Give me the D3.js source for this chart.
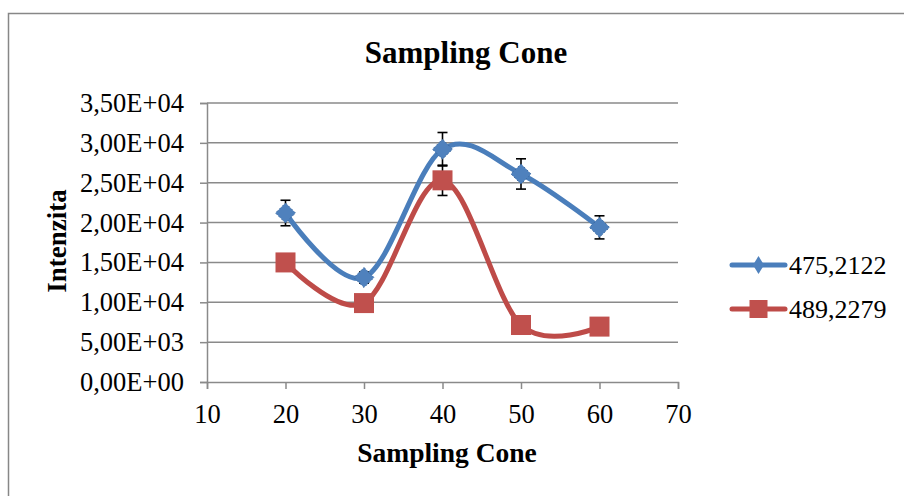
<!DOCTYPE html>
<html>
<head>
<meta charset="utf-8">
<script src="https://cdn.jsdelivr.net/npm/d3@7"></script>
<style>
  html, body { margin: 0; padding: 0; background: #fff; }
  svg { display: block; }
  text { font-family: "Liberation Serif", "Times New Roman", serif; fill: #000; }
</style>
</head>
<body>
<svg id="chart" width="904" height="496"></svg>
<script>
// ---- data ----
const categories = [20, 30, 40, 50, 60];
const seriesNames = ["475,2122", "489,2279"];
const series1 = [21200, 13100, 29200, 26100, 19400];
const series1Err = [1600, 700, 2100, 1900, 1450];
const series2 = [15000, 9900, 25300, 7150, 6950];
const series2Err = [500, 500, 1900, 500, 500];
const xTicks = [10, 20, 30, 40, 50, 60, 70];
const yTicks = [0, 5000, 10000, 15000, 20000, 25000, 30000, 35000];
const yTickLabels = ["0,00E+00", "5,00E+03", "1,00E+04", "1,50E+04", "2,00E+04", "2,50E+04", "3,00E+04", "3,50E+04"];
const chartTitle = "Sampling Cone";
const xTitle = "Sampling Cone";
const yTitle = "Intenzita";

const svg = d3.select("#chart");
const blue = "#4A7EBB", blueFill = "#4F81BD";
const red = "#BE4B48", redFill = "#C0504D";
const gridCol = "#8a8a8a";
const serif = '"Liberation Serif", "Times New Roman", serif';

// frame
svg.append("rect").attr("x", 8.5).attr("y", 13.5).attr("width", 1000).attr("height", 1000)
  .attr("fill", "#fff").attr("stroke", "#878787").attr("stroke-width", 1.5);

const x = d3.scaleLinear().domain([10, 70]).range([207, 678]);
const y = d3.scaleLinear().domain([0, 35000]).range([382, 103]);

// gridlines
svg.append("g").selectAll("line").data(yTicks.slice(1)).join("line")
  .attr("x1", x(10)).attr("x2", x(70))
  .attr("y1", d => y(d)).attr("y2", d => y(d))
  .attr("stroke", gridCol).attr("stroke-width", 1.5);

// axes
const yAxis = d3.axisLeft(y).tickValues(yTicks).tickSize(7).tickPadding(16)
  .tickFormat((d, i) => yTickLabels[i]);
const gy = svg.append("g").attr("transform", `translate(${x(10)},0)`).call(yAxis);
const xAxis = d3.axisBottom(x).tickValues(xTicks).tickSize(7).tickPadding(15)
  .tickFormat(d3.format("d"));
const gx = svg.append("g").attr("transform", `translate(0,${y(0)})`).call(xAxis);
[gx, gy].forEach(g => {
  g.select(".domain").attr("stroke", gridCol).attr("stroke-width", 1.5);
  g.selectAll(".tick line").attr("stroke", gridCol).attr("stroke-width", 1.5);
  g.selectAll(".tick text").style("font-family", serif)
    .style("font-size", "26.5px").attr("fill", "#000");
});

// lines
const line = d3.line().x(d => x(d[0])).y(d => y(d[1])).curve(d3.curveCardinal.tension(0));
const d1 = categories.map((c, i) => [c, series1[i], series1Err[i]]);
const d2 = categories.map((c, i) => [c, series2[i], series2Err[i]]);
svg.append("path").attr("d", line(d1)).attr("fill", "none").attr("stroke", blue)
  .attr("stroke-width", 5).attr("stroke-linecap", "round");
svg.append("path").attr("d", line(d2)).attr("fill", "none").attr("stroke", red)
  .attr("stroke-width", 5).attr("stroke-linecap", "round");

// error bars
function errBars(data) {
  const g = svg.append("g").attr("stroke", "#000").attr("stroke-width", 1.6);
  data.forEach(d => {
    const cx = x(d[0]), t = y(d[1] + d[2]), b = y(d[1] - d[2]);
    g.append("line").attr("x1", cx).attr("x2", cx).attr("y1", t).attr("y2", b);
    g.append("line").attr("x1", cx - 5).attr("x2", cx + 5).attr("y1", t).attr("y2", t);
    g.append("line").attr("x1", cx - 5).attr("x2", cx + 5).attr("y1", b).attr("y2", b);
  });
}
errBars(d1);
errBars(d2);

// markers
const r = 10;
svg.append("g").selectAll("path").data(d1).join("path")
  .attr("transform", d => `translate(${x(d[0])},${y(d[1])})`)
  .attr("d", `M0,${-r} L${r},0 L0,${r} L${-r},0 Z`)
  .attr("fill", blueFill).attr("stroke", "#3d6ba3").attr("stroke-width", 1)
  .attr("stroke-dasharray", "2,2");
svg.append("g").selectAll("rect").data(d2).join("rect")
  .attr("x", d => x(d[0]) - 10).attr("y", d => y(d[1]) - 10)
  .attr("width", 20).attr("height", 20).attr("fill", redFill);

// titles
svg.append("text").attr("x", 466).attr("y", 63).attr("text-anchor", "middle")
  .style("font-size", "31px").style("font-weight", "bold").text(chartTitle);
svg.append("text").attr("x", 447).attr("y", 462).attr("text-anchor", "middle")
  .style("font-size", "27.5px").style("font-weight", "bold").text(xTitle);
svg.append("text").attr("transform", "translate(66,241) rotate(-90)").attr("text-anchor", "middle")
  .style("font-size", "27px").style("font-weight", "bold").text(yTitle);

// legend
const legY = [265, 309];
seriesNames.forEach((name, i) => {
  const g = svg.append("g").attr("transform", `translate(0,${legY[i]})`);
  g.append("line").attr("x1", 732).attr("x2", 785).attr("y1", 0).attr("y2", 0)
    .attr("stroke", i === 0 ? blue : red).attr("stroke-width", 5).attr("stroke-linecap", "round");
  if (i === 0) {
    g.append("path").attr("d", "M758.5,-9 L764,0 L758.5,9 L753,0 Z").attr("fill", blueFill);
  } else {
    g.append("rect").attr("x", 749.5).attr("y", -9).attr("width", 18).attr("height", 18).attr("fill", redFill);
  }
  g.append("text").attr("x", 789).attr("y", 9).style("font-size", "26px").text(name);
});
</script>
</body>
</html>
